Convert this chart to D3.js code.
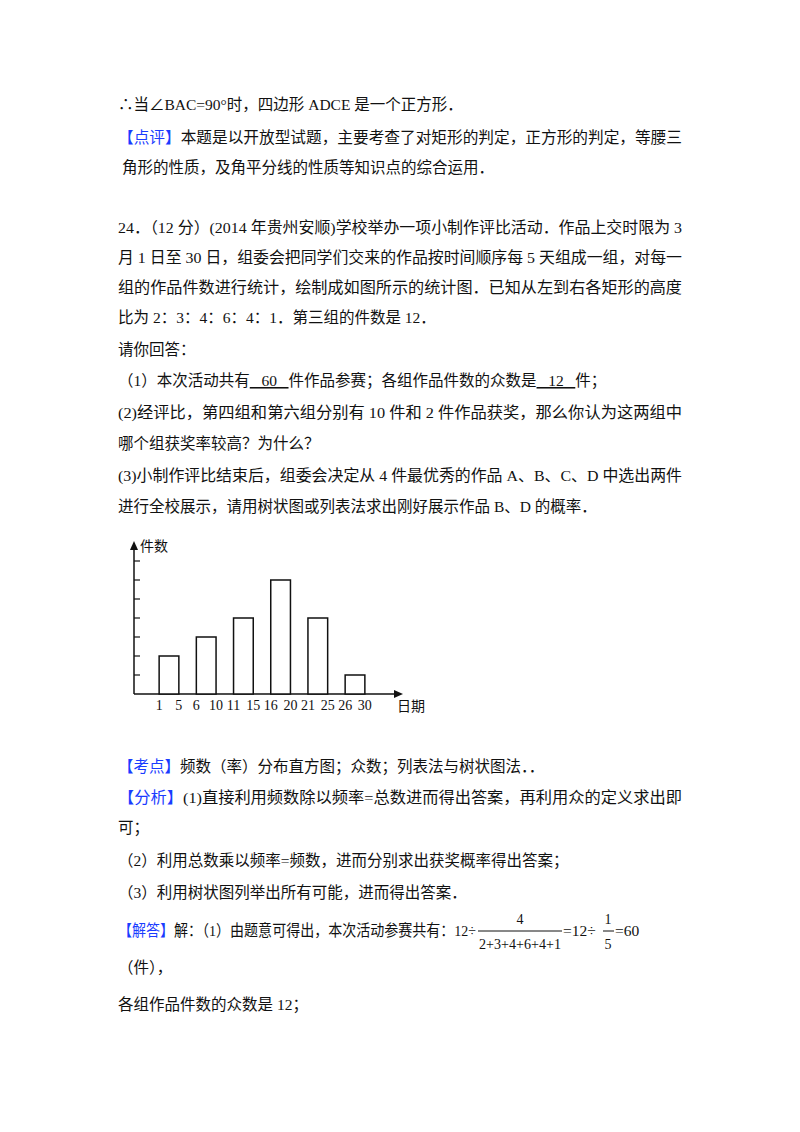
<!DOCTYPE html>
<html><head><meta charset="utf-8">
<script src="https://cdn.jsdelivr.net/npm/d3@7"></script>
<style>body{margin:0;background:#fff}text{font-family:"Liberation Serif","Noto Sans CJK SC",serif;fill:#111}</style>
</head><body><svg id="c" width="800" height="1132"></svg>
<script>
const categories=["1-5","6-10","11-15","16-20","21-25","26-30"];
const values=[8,12,16,24,16,4];
const tickLabels=[["1","5"],["6","10"],["11","15"],["16","20"],["21","25"],["26","30"]];
const yTicks=[4,8,12,16,20,24,28];

const svg=d3.select("#c");
const FS=15.5, L=118, R=682;
function line(y,x,parts,full){
  const t=svg.append("text").attr("x",x).attr("y",y).attr("font-size",FS);
  parts.forEach(p=>{
    const s=t.append("tspan").text(p.t);
    if(p.c)s.style("fill",p.c);
    if(p.u)s.attr("text-decoration","underline");
  });
  if(full)t.attr("textLength",(typeof full==="number"?full:R)-x).attr("lengthAdjust","spacingAndGlyphs");
  return t;
}
const B="#1a3cff";
line(110,L,[{t:"∴当∠BAC=90°时，四边形 ADCE 是一个正方形．"}]);
line(143,L,[{t:"【点评】",c:B},{t:"本题是以开放型试题，主要考查了对矩形的判定，正方形的判定，等腰三"}],true);
line(173,122,[{t:"角形的性质，及角平分线的性质等知识点的综合运用．"}]);
line(233,L,[{t:"24．（12 分）(2014 年贵州安顺)学校举办一项小制作评比活动．作品上交时限为 3"}],true);
line(263,L,[{t:"月 1 日至 30 日，组委会把同学们交来的作品按时间顺序每 5 天组成一组，对每一"}],true);
line(293,L,[{t:"组的作品件数进行统计，绘制成如图所示的统计图．已知从左到右各矩形的高度"}],true);
line(323,L,[{t:"比为 2：3：4：6：4：1．第三组的件数是 12．"}]);
line(355,L,[{t:"请你回答："}]);
line(386,L,[{t:"（1）本次活动共有"},{t:"\u00a0\u00a0\u00a060\u00a0\u00a0\u00a0",u:1},{t:"件作品参赛；各组作品件数的众数是"},{t:"\u00a0\u00a0\u00a012\u00a0\u00a0\u00a0",u:1},{t:"件；"}]);
line(418,L,[{t:"(2)经评比，第四组和第六组分别有 10 件和 2 件作品获奖，那么你认为这两组中"}],true);
line(449,L,[{t:"哪个组获奖率较高？为什么？"}]);
line(481,L,[{t:"(3)小制作评比结束后，组委会决定从 4 件最优秀的作品 A、B、C、D 中选出两件"}],true);
line(512,L,[{t:"进行全校展示，请用树状图或列表法求出刚好展示作品 B、D 的概率．"}]);
line(772,L,[{t:"【考点】",c:B},{t:"频数（率）分布直方图；众数；列表法与树状图法．．"}]);
line(803,L,[{t:"【分析】",c:B},{t:"(1)直接利用频数除以频率=总数进而得出答案，再利用众的定义求出即"}],true);
line(833,L,[{t:"可；"}]);
line(866,L,[{t:"（2）利用总数乘以频率=频数，进而分别求出获奖概率得出答案；"}]);
line(898,L,[{t:"（3）利用树状图列举出所有可能，进而得出答案．"}]);
line(936,L,[{t:"【解答】",c:B},{t:"解：（1）由题意可得出，本次活动参赛共有：12÷"}],476);
svg.append("text").attr("x",520).attr("y",924).attr("font-size",14).attr("text-anchor","middle").text("4");
svg.append("line").attr("x1",478).attr("x2",562).attr("y1",931).attr("y2",931).attr("stroke","#111");
svg.append("text").attr("x",520).attr("y",949).attr("font-size",14).attr("text-anchor","middle").attr("textLength",82).attr("lengthAdjust","spacingAndGlyphs").text("2+3+4+6+4+1");
svg.append("text").attr("x",563).attr("y",936).attr("font-size",FS).text("=12÷");
svg.append("text").attr("x",608).attr("y",924).attr("font-size",14).attr("text-anchor","middle").text("1");
svg.append("line").attr("x1",603).attr("x2",614).attr("y1",931).attr("y2",931).attr("stroke","#111");
svg.append("text").attr("x",608).attr("y",949).attr("font-size",14).attr("text-anchor","middle").text("5");
svg.append("text").attr("x",615).attr("y",936).attr("font-size",FS).text("=60");
line(973,L,[{t:"（件），"}]);
line(1010,L,[{t:"各组作品件数的众数是 12；"}]);

const x0=134, base=694;
const x=d3.scaleBand().domain(categories).range([145,379]).paddingInner(0.47).paddingOuter(0.38);
const y=d3.scaleLinear().domain([0,28]).range([base,561]);
const g=svg.append("g");
g.append("line").attr("x1",x0).attr("x2",x0).attr("y1",base).attr("y2",548).attr("stroke","#111").attr("stroke-width",1.5);
g.append("path").attr("d",`M${x0-4},${550}L${x0},${541}L${x0+4},${550}Z`).attr("fill","#111");
g.append("line").attr("x1",x0).attr("x2",396).attr("y1",base).attr("y2",base).attr("stroke","#111").attr("stroke-width",1.5);
g.append("path").attr("d",`M394,${base-4}L403,${base}L394,${base+4}Z`).attr("fill","#111");
g.selectAll(".yt").data(yTicks).join("line").attr("x1",x0).attr("x2",x0+6).attr("y1",d=>y(d)).attr("y2",d=>y(d)).attr("stroke","#111").attr("stroke-width",1.2);
g.selectAll("rect").data(values).join("rect")
 .attr("x",(d,i)=>x(categories[i])).attr("width",x.bandwidth())
 .attr("y",d=>y(d)).attr("height",d=>base-y(d))
 .attr("fill","#fff").attr("stroke","#111").attr("stroke-width",1.5);
categories.forEach((c,i)=>{
  g.append("text").attr("x",x(c)).attr("y",710).attr("font-size",14).attr("text-anchor","middle").text(tickLabels[i][0]);
  g.append("text").attr("x",x(c)+x.bandwidth()).attr("y",710).attr("font-size",14).attr("text-anchor","middle").text(tickLabels[i][1]);
});
g.append("text").attr("x",140).attr("y",551).attr("font-size",14).text("件数");
g.append("text").attr("x",397).attr("y",711).attr("font-size",14).text("日期");
</script></body></html>
